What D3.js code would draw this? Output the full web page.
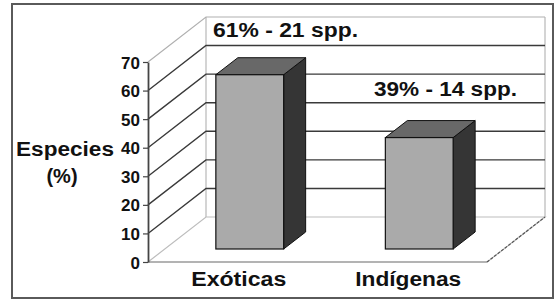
<!DOCTYPE html>
<html><head><meta charset="utf-8">
<script src="https://cdn.jsdelivr.net/npm/d3@7"></script>
<style>
html,body{margin:0;padding:0;background:#fff;}
svg{display:block;font-family:"Liberation Sans",Arial,sans-serif;font-weight:bold;}
</style></head>
<body>
<svg id="c" width="558" height="300"></svg>
<script>
const categories = ["Exóticas", "Indígenas"];
const values = [61, 39];
const tickValues = [0, 10, 20, 30, 40, 50, 60, 70];
const annotations = ["61% - 21 spp.", "39% - 14 spp."];
const yTitle = ["Especies", "(%)"];

const svg = d3.select("#c");
const X0 = 148, X1 = 487, Y0 = 262, Y1 = 62;
const DX = 58, DY = 45;          // wall depth
const BX = 17, BY = 13;          // bar front offset
const BDX = 22, BDY = 17;        // bar depth

const y = d3.scaleLinear().domain([0, 70]).range([Y0, Y1]);
const x = d3.scaleBand().domain(categories).range([X0, X1]).padding(0);
const bw = x.bandwidth() * 0.4;

// outer border
svg.append("rect").attr("x", 12).attr("y", 4).attr("width", 541).attr("height", 294)
  .attr("fill", "#fff").attr("stroke", "#5a5a5a").attr("stroke-width", 2);

const g = svg.append("g");
g.append("line").attr("x1", X0 + DX).attr("x2", X0 + DX).attr("y1", y(70) - DY).attr("y2", y(0) - DY)
  .attr("stroke", "#b8b8b8").attr("stroke-width", 1.2);
g.append("line").attr("x1", X1 + DX).attr("x2", X1 + DX).attr("y1", y(70) - DY).attr("y2", y(0) - DY)
  .attr("stroke", "#b8b8b8").attr("stroke-width", 1.2);
g.append("path").attr("d", `M${X0},${Y0}L${X0 + DX},${Y0 - DY}L${X1 + DX},${Y0 - DY}L${X1},${Y0}`)
  .attr("fill", "none").attr("stroke", "#bdbdbd").attr("stroke-width", 1.2);
g.append("line").attr("x1", X0).attr("x2", X1).attr("y1", Y0).attr("y2", Y0)
  .attr("stroke", "#9a9a9a").attr("stroke-width", 1.5);
g.append("line").attr("x1", X1).attr("x2", X1 + DX).attr("y1", Y0).attr("y2", Y0 - DY)
  .attr("stroke", "#555").attr("stroke-width", 1.2).attr("stroke-dasharray", "3,1.5");

tickValues.filter(v => v > 0).forEach(v => {
  const col = v === 70 ? "#b0b0b0" : "#3a3a3a";
  g.append("path")
    .attr("d", `M${X0},${y(v)}L${X0 + DX},${y(v) - DY}L${X1 + DX},${y(v) - DY}`)
    .attr("fill", "none").attr("stroke", col).attr("stroke-width", v === 70 ? 1.2 : 1.4);
});

const ax = svg.append("g").attr("transform", `translate(${X0},0)`)
  .call(d3.axisLeft(y).tickValues(tickValues).tickSize(5).tickSizeOuter(0).tickPadding(3));
ax.select(".domain").attr("stroke", "#444").attr("stroke-width", 1.8);
ax.selectAll(".tick line").attr("stroke", "#444").attr("stroke-width", 1.2);
ax.selectAll(".tick text").attr("font-size", 17).attr("font-family", "Liberation Sans, Arial, sans-serif")
  .attr("font-weight", "bold").attr("fill", "#111").attr("dy", "0.36em");

const bars = svg.append("g");
categories.forEach((c, i) => {
  const v = values[i];
  const xl = x(c) + x.bandwidth() / 2 - bw / 2 + BX;
  const xr = xl + bw;
  const yb = y(0) - BY, yt = y(v) - BY;
  bars.append("path")
    .attr("d", `M${xr},${yb}L${xr + BDX},${yb - BDY}L${xr + BDX},${yt - BDY}L${xr},${yt}Z`)
    .attr("fill", "#353535").attr("stroke", "#111").attr("stroke-width", 1);
  bars.append("path")
    .attr("d", `M${xl},${yt}L${xl + BDX},${yt - BDY}L${xr + BDX},${yt - BDY}L${xr},${yt}Z`)
    .attr("fill", "#686868").attr("stroke", "#111").attr("stroke-width", 1);
  bars.append("rect").attr("x", xl).attr("y", yt).attr("width", bw).attr("height", yb - yt)
    .attr("fill", "#aaaaaa").attr("stroke", "#111").attr("stroke-width", 1.2);
});

const catW = [95, 106];
categories.forEach((c, i) => {
  svg.append("text").attr("x", x(c) + x.bandwidth() / 2 + 6).attr("y", 286)
    .attr("text-anchor", "middle").attr("font-size", 20).attr("fill", "#111")
    .attr("textLength", catW[i]).attr("lengthAdjust", "spacingAndGlyphs").text(c);
});

svg.append("text").attr("x", 213).attr("y", 37).attr("font-size", 20).attr("fill", "#111")
  .attr("textLength", 145).attr("lengthAdjust", "spacingAndGlyphs").text(annotations[0]);
svg.append("text").attr("x", 374).attr("y", 96).attr("font-size", 20).attr("fill", "#111")
  .attr("textLength", 143).attr("lengthAdjust", "spacingAndGlyphs").text(annotations[1]);

svg.append("text").attr("x", 16).attr("y", 156).attr("font-size", 20).attr("fill", "#111")
  .attr("textLength", 98).attr("lengthAdjust", "spacingAndGlyphs").text(yTitle[0]);
svg.append("text").attr("x", 62).attr("y", 183).attr("text-anchor", "middle").attr("font-size", 20)
  .attr("fill", "#111").text(yTitle[1]);
</script>
</body></html>
